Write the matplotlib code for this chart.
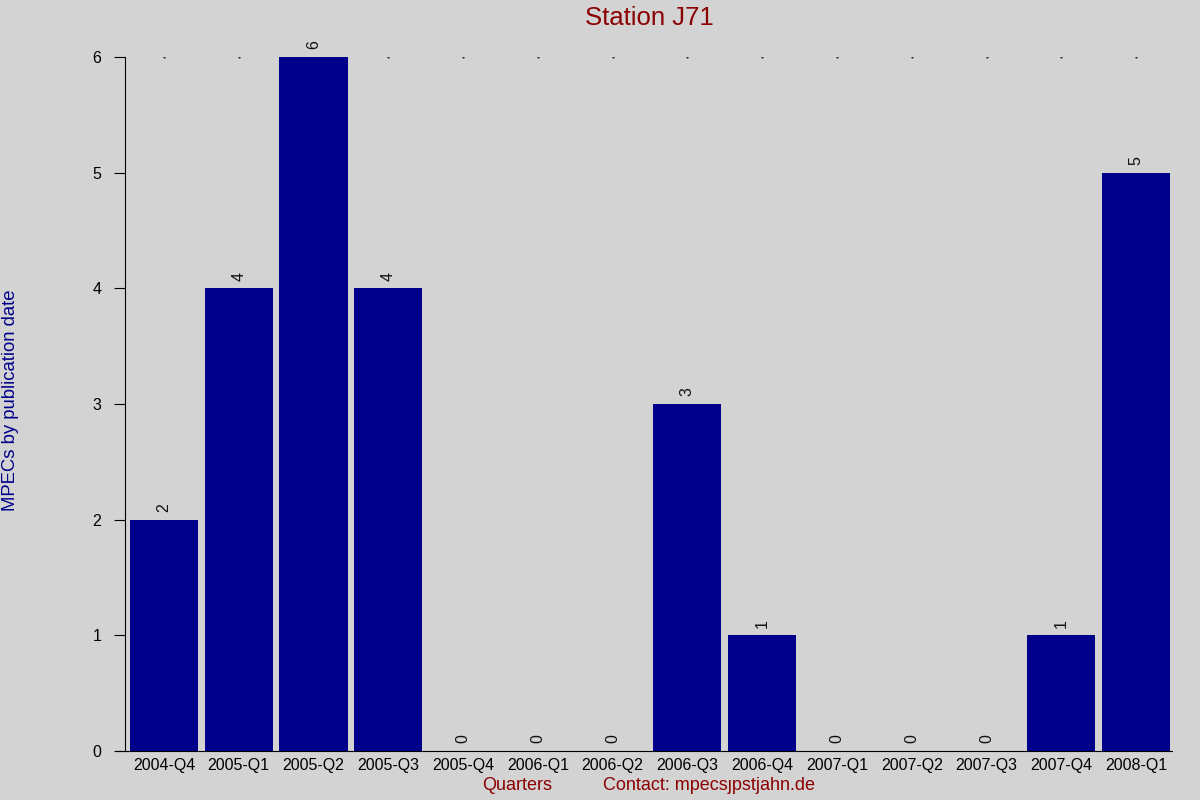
import matplotlib.pyplot as plt

# data
quarters = ["2004-Q4", "2005-Q1", "2005-Q2", "2005-Q3", "2005-Q4", "2006-Q1", "2006-Q2",
            "2006-Q3", "2006-Q4", "2007-Q1", "2007-Q2", "2007-Q3", "2007-Q4", "2008-Q1"]
counts = [2, 4, 6, 4, 0, 0, 0, 3, 1, 0, 0, 0, 1, 5]
y_ticks = [0, 1, 2, 3, 4, 5, 6]

plt.rcParams['font.family'] = ['Liberation Sans', 'DejaVu Sans']

fig = plt.figure(figsize=(12, 8), dpi=100, facecolor="#d3d3d3")
ax = fig.add_axes([0.1042, 0.06125, 0.8725, 0.8675])
ax.set_facecolor("#d3d3d3")

x = list(range(len(quarters)))
ax.bar(x, counts, width=0.91, color="#00008b", zorder=2)

# value labels
for xi, c in zip(x, counts):
    ax.annotate(str(c), (xi, c), xytext=(0, 5.5), textcoords="offset points",
                rotation=90, ha="center", va="bottom", fontsize=11.5, color="#111111")

# small dots at top
ax.plot(x, [6] * len(x), linestyle="none", marker=".", markersize=1.2, color="#222222", zorder=1)

ax.set_xlim(-0.52, 13.48)
ax.set_ylim(0, 6)
ax.set_xticks(x)
ax.set_xticklabels(quarters, fontsize=11.5)
ax.set_yticks(y_ticks)
ax.set_yticklabels([str(t) for t in y_ticks], fontsize=11.5)
ax.tick_params(axis="x", length=0, pad=5)
ax.tick_params(axis="y", length=8, direction="out", pad=9)

for s in ["top", "right"]:
    ax.spines[s].set_visible(False)
ax.spines["bottom"].set_bounds(-0.63, 13.48)

fig.text(0.541, 0.977, "Station J71", ha="center", va="center", fontsize=18.5, color="#8b0000")
fig.text(0.009, 0.5, "MPECs by publication date", rotation=90, ha="center", va="center",
         fontsize=13.3, color="#00008b")
fig.text(0.431, 0.0175, "Quarters", ha="center", va="center", fontsize=13, color="#8b0000")
fig.text(0.5025, 0.0175, "Contact: mpecs\u0237pstjahn.de", ha="left", va="center",
         fontsize=13, color="#8b0000")

fig.savefig("out.png", dpi=100, facecolor=fig.get_facecolor())
